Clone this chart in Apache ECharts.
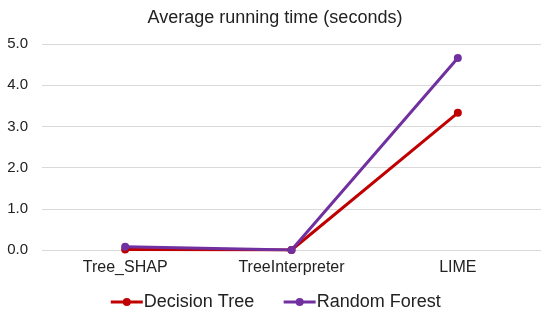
<!DOCTYPE html>
<html>
<head>
<meta charset="utf-8">
<script src="https://cdn.jsdelivr.net/npm/echarts@6/dist/echarts.min.js"></script>
<style>html,body{margin:0;padding:0;background:#fff}#c{width:550px;height:324px}</style>
</head>
<body>
<div id="c"></div>
<script>
var categories = ['Tree_SHAP', 'TreeInterpreter', 'LIME'];
var decisionTree = [0.01, 0.0, 3.33];
var randomForest = [0.08, 0.0, 4.66];
var yTicks = [0, 1, 2, 3, 4, 5];

var chart = echarts.init(document.getElementById('c'));
var font = '"Liberation Sans", Arial, sans-serif';
chart.setOption({
  animation: false,
  title: {
    text: 'Average running time (seconds)',
    left: 'center', top: 4,
    textStyle: { fontFamily: font, fontSize: 18, fontWeight: 'normal', color: '#222' }
  },
  legend: {
    bottom: 8, left: 'center',
    itemWidth: 32, itemHeight: 10, itemGap: 28,
    lineStyle: { width: 3 },
    textStyle: { fontFamily: font, fontSize: 18, color: '#222', padding: [0, 0, 0, -4] },
    data: ['Decision Tree', 'Random Forest']
  },
  grid: { left: 42, right: 9, top: 44, bottom: 74, containLabel: false },
  xAxis: {
    type: 'category', data: categories, boundaryGap: true,
    axisLine: { show: false }, axisTick: { show: false },
    axisLabel: { fontFamily: font, fontSize: 16, color: '#222', margin: 10 }
  },
  yAxis: {
    type: 'value', min: yTicks[0], max: yTicks[yTicks.length - 1], interval: 1,
    axisLine: { show: false }, axisTick: { show: false },
    splitLine: { lineStyle: { color: '#d9d9d9', width: 1 } },
    axisLabel: { fontFamily: font, fontSize: 15, color: '#222', margin: 14,
      formatter: function (v) { return v.toFixed(1); } }
  },
  series: [
    { name: 'Decision Tree', type: 'line', data: decisionTree,
      symbol: 'circle', symbolSize: 8,
      lineStyle: { color: '#C00000', width: 3 },
      itemStyle: { color: '#C00000' } },
    { name: 'Random Forest', type: 'line', data: randomForest,
      symbol: 'circle', symbolSize: 8,
      lineStyle: { color: '#7030A0', width: 3 },
      itemStyle: { color: '#7030A0' } }
  ]
});
</script>
</body>
</html>
